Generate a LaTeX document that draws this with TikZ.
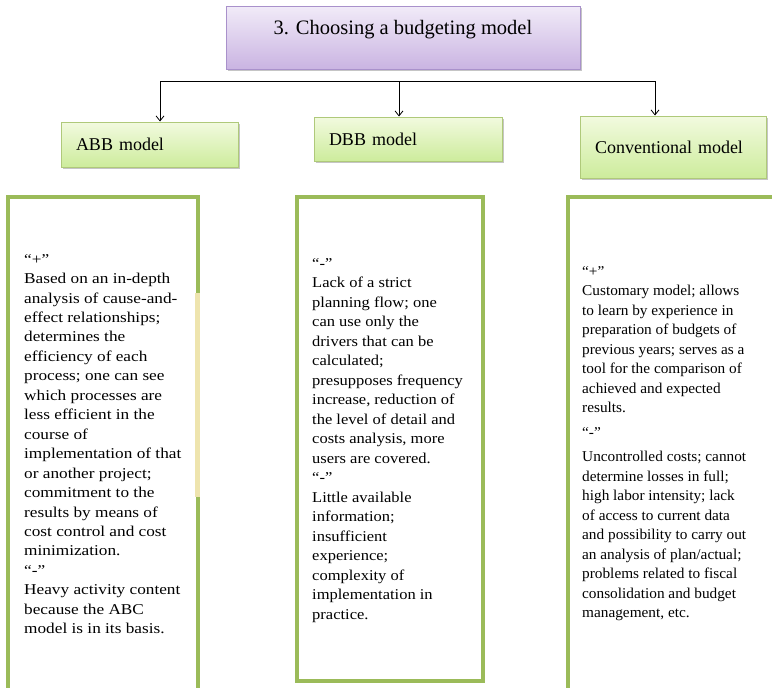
\documentclass[tikz,border=0pt]{standalone}
\usepackage{fontspec}
\setmainfont{Liberation Serif}
\newfontfamily\abbfont[FakeStretch=1.15]{Liberation Serif}
\newfontfamily\dbbfont[FakeStretch=1.10]{Liberation Serif}
\newfontfamily\convfont[FakeStretch=1.02]{Liberation Serif}
\usetikzlibrary{shadows,arrows.meta}

\definecolor{olivegreen}{HTML}{9BBB59}
\definecolor{paleyellow}{HTML}{EEE4AE}
\definecolor{lavtop}{HTML}{F1EBF8}
\definecolor{lavbot}{HTML}{CAB4E2}
\definecolor{lavline}{HTML}{A991CB}
\definecolor{greentop}{HTML}{F2FADF}
\definecolor{greenbot}{HTML}{CDEC9C}

\tikzset{
  titlebox/.style={rectangle, draw=lavline, line width=1pt, top color=lavtop, bottom color=lavbot,
    minimum width=354pt, minimum height=63pt, inner sep=0pt,
    drop shadow={shadow xshift=2pt, shadow yshift=-2pt, fill=black!45, opacity=.5}},
  modelbox/.style={rectangle, draw=olivegreen!80, line width=1pt, top color=greentop, bottom color=greenbot,
    inner xsep=15pt, inner ysep=0pt, align=left, font=\fontsize{18}{21}\selectfont,
    drop shadow={shadow xshift=2pt, shadow yshift=-2pt, fill=black!45, opacity=.5}},
  listbox/.style={draw=olivegreen, line width=4pt},
  listtext/.style={anchor=north west, inner sep=0pt, align=left},
  branch/.style={line width=0.8pt},
  drop/.style={branch, -{Straight Barb[length=5pt,width=8pt]}}
}

\begin{document}
\begin{tikzpicture}[x=1pt,y=-1pt]
\clip (0,0) rectangle (772,688);
\fill[white] (0,0) rectangle (772,688);

% top of the tree
\node[titlebox] (title) at (403,37.5) {};
\node[font=\fontsize{20.5}{24}\selectfont] (titletext) at (403,30) {3. Choosing a budgeting model};

% three models
\node[modelbox, minimum width=177pt, minimum height=45pt, text width=147pt] (abb) at (149.5,144.5) {ABB model};
\node[modelbox, minimum width=188pt, minimum height=44pt, text width=158pt] (dbb) at (408,139) {DBB model};
\node[modelbox, minimum width=186pt, minimum height=62pt, text width=156pt] (conv) at (673,147) {Conventional model};

% branching
\coordinate (branchL) at (160,81);
\coordinate (branchM) at (399,81);
\coordinate (branchR) at (655,81);
\draw[branch] (branchL) -- (branchR);
\draw[drop] (branchL) -- (branchL |- abb.north);
\draw[drop] (branchM) -- (branchM |- dbb.north);
\draw[drop] (branchR) -- (branchR |- conv.north);

% boxes with pros and cons
\draw[listbox] (8,710) -- (8,197) -- (198,197) -- (198,710);
\draw[paleyellow, line width=5pt] (197,293) -- (197,497);
\draw[listbox] (297,197) rectangle (483,681);
\draw[listbox] (568,710) -- (568,197) -- (790,197);

\node[listtext, font=\abbfont\fontsize{15}{19.45}\selectfont] (abbtext) at (24,254) {“+”\\
Based on an in-depth\\
analysis of cause-and-\\
effect relationships;\\
determines the\\
efficiency of each\\
process; one can see\\
which processes are\\
less efficient in the\\
course of\\
implementation of that\\
or another project;\\
commitment to the\\
results by means of\\
cost control and cost\\
minimization.\\
“-”\\
Heavy activity content\\
because the ABC\\
model is in its basis.};

\node[listtext, font=\dbbfont\fontsize{15}{19.5}\selectfont] (dbbtext) at (312,258) {“-”\\
Lack of a strict\\
planning flow; one\\
can use only the\\
drivers that can be\\
calculated;\\
presupposes frequency\\
increase, reduction of\\
the level of detail and\\
costs analysis, more\\
users are covered.\\
“-”\\
Little available\\
information;\\
insufficient\\
experience;\\
complexity of\\
implementation in\\
practice.};

\node[listtext, font=\convfont\fontsize{15}{19.5}\selectfont] (convtext) at (582,266) {“+”\\
Customary model; allows\\
to learn by experience in\\
preparation of budgets of\\
previous years; serves as a\\
tool for the comparison of\\
achieved and expected\\
results.\\[5pt]
“-”\\[5pt]
Uncontrolled costs; cannot\\
determine losses in full;\\
high labor intensity; lack\\
of access to current data\\
and possibility to carry out\\
an analysis of plan/actual;\\
problems related to fiscal\\
consolidation and budget\\
management, etc.};
\end{tikzpicture}
\end{document}
